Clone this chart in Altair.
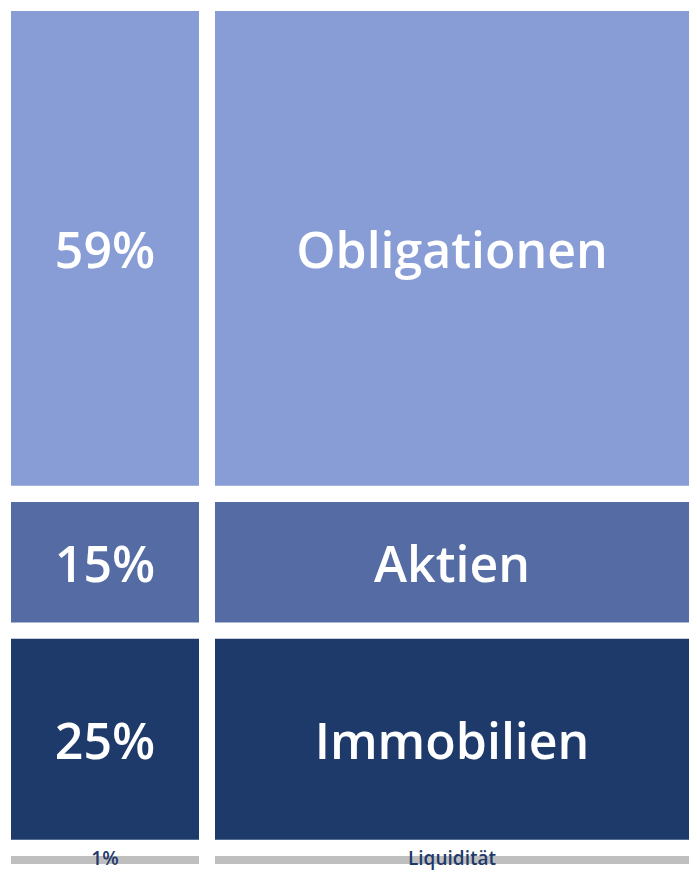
import altair as alt
import pandas as pd

# Data
categories = ["Obligationen", "Aktien", "Immobilien", "Liquidität"]
shares = [59, 15, 25, 1]
colors = ["#889dd6", "#546ba3", "#1e3a6b", "#bfbfbf"]

# Layout constants (style)
GAP = 2.0            # vertical gap between blocks, in share units
LEFT_W = 188         # width of left column (x units)
COL_GAP = 16
RIGHT_W = 474
TOTAL_W = LEFT_W + COL_GAP + RIGHT_W

rows = []
top = 0.0
for cat, v, col in zip(categories, shares, colors):
    y0, y1 = top, top + v
    top = y1 + GAP
    big = cat != "Liquidität"
    rows.append(dict(cat=cat, label=f"{v}%", x0=0, x1=LEFT_W, y0=y0, y1=y1,
                     ym=(y0 + y1) / 2, color=col, big=big, side="left"))
    rows.append(dict(cat=cat, label=cat, x0=LEFT_W + COL_GAP, x1=TOTAL_W, y0=y0, y1=y1,
                     ym=(y0 + y1) / 2, color=col, big=big, side="right"))
df = pd.DataFrame(rows)
df["xm"] = (df["x0"] + df["x1"]) / 2
ymax = top - GAP

xs = alt.Scale(domain=[0, TOTAL_W], nice=False, zero=False)
ys = alt.Scale(domain=[0, ymax], reverse=True, nice=False, zero=False)

base = alt.Chart(df)

rects = base.mark_rect().encode(
    x=alt.X("x0:Q", scale=xs, axis=None),
    x2="x1:Q",
    y=alt.Y("y0:Q", scale=ys, axis=None),
    y2="y1:Q",
    color=alt.Color("color:N", scale=None, legend=None),
)

big_text = base.transform_filter("datum.big").mark_text(
    font="Open Sans", fontWeight=600, fontSize=50, color="white",
    align="center", baseline="alphabetic", dy=20,
).encode(
    x=alt.X("xm:Q", scale=xs, axis=None),
    y=alt.Y("ym:Q", scale=ys, axis=None),
    text="label:N",
)

small_text = base.transform_filter("!datum.big").mark_text(
    font="Open Sans", fontWeight=600, fontSize=19, color="#1e3a6b",
    align="center", baseline="alphabetic", dy=5,
).encode(
    x=alt.X("xm:Q", scale=xs, axis=None),
    y=alt.Y("ym:Q", scale=ys, axis=None),
    text="label:N",
)

chart = alt.layer(rects, big_text, small_text).properties(
    width=TOTAL_W, height=853,
    padding={"left": 3, "top": 3, "right": 0, "bottom": 9},
    autosize=alt.AutoSizeParams(type="none"),
).configure_view(stroke=None)

chart.save("out.html", embed_options={"renderer": "svg", "actions": False})
